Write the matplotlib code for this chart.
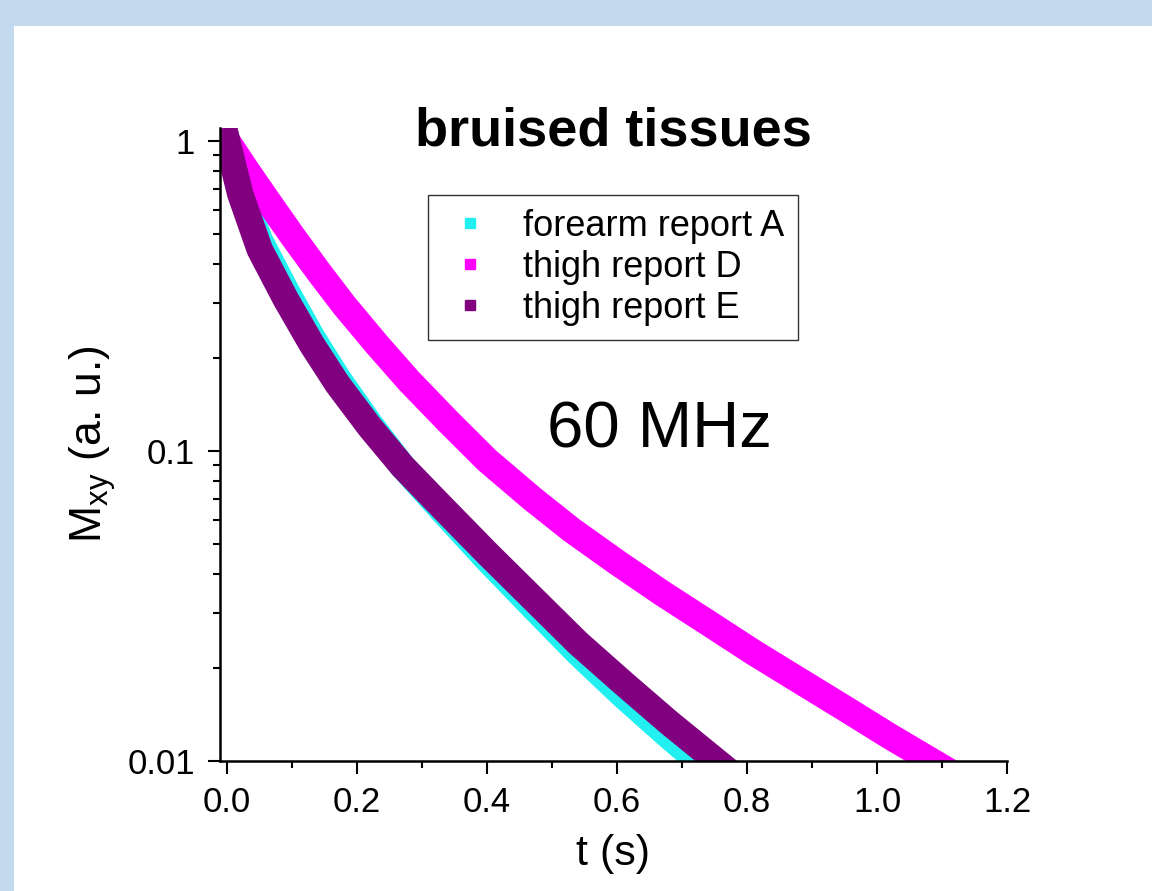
#import library
import matplotlib.pyplot as plt
from matplotlib.patches import Rectangle
from matplotlib.lines import Line2D
from matplotlib.ticker import MultipleLocator, LogLocator, NullFormatter, FuncFormatter, FormatStrFormatter

plt.rcParams['font.family'] = ['Liberation Sans', 'DejaVu Sans']

#data (t in s, Mxy in a.u.)
t_A = [0, 0.02, 0.05, 0.09, 0.13, 0.17, 0.22, 0.27, 0.33, 0.40, 0.47, 0.54, 0.61, 0.68, 0.75]
M_A = [1, 0.708, 0.479, 0.331, 0.234, 0.172, 0.122, 0.0891, 0.0646, 0.0447, 0.0315, 0.0223,
       0.0162, 0.0120, 0.0090]

t_D = [0, 0.03, 0.06, 0.10, 0.14, 0.18, 0.23, 0.28, 0.34, 0.40, 0.47, 0.53, 0.60, 0.67, 0.74,
       0.81, 0.88, 0.95, 1.02, 1.10]
M_D = [1, 0.804, 0.652, 0.495, 0.380, 0.295, 0.221, 0.168, 0.1245, 0.0933, 0.0700, 0.0556,
       0.0437, 0.0347, 0.0279, 0.0224, 0.0182, 0.0148, 0.0120, 0.00955]

t_E = [0, 0.02, 0.05, 0.09, 0.13, 0.17, 0.22, 0.27, 0.33, 0.40, 0.47, 0.54, 0.61, 0.68, 0.75, 0.80]
M_E = [1, 0.676, 0.447, 0.309, 0.221, 0.164, 0.119, 0.0891, 0.0661, 0.0468, 0.0335, 0.0240,
       0.0178, 0.0133, 0.0101, 0.0083]

labels = ['forearm report A', 'thigh report D', 'thigh report E']
colors = ['#22f0f0', '#ff00ff', '#800080']

#figure with light blue frame
fig = plt.figure(figsize=(11.52, 8.91), dpi=100)
fig.patch.set_facecolor('#c3d9ee')
fig.add_artist(Rectangle((14/1152, 0), 1, 1 - 26/891, transform=fig.transFigure,
                         facecolor='white', edgecolor='none', zorder=-1))

ax = fig.add_axes([220/1152, 130/891, 787/1152, 633/891])
ax.set_facecolor('white')

#thick bands
for t, M, c in zip([t_A, t_D, t_E], [M_A, M_D, M_E], colors):
    ax.plot(t, M, color=c, lw=19, solid_capstyle='projecting', solid_joinstyle='round')

ax.set_yscale('log')
ax.set_xlim(-0.011, 1.2)
ax.set_ylim(0.01, 1.10)

#spines and ticks
ax.spines['top'].set_visible(False)
ax.spines['right'].set_visible(False)
ax.spines['left'].set_linewidth(1.8)
ax.spines['bottom'].set_linewidth(1.8)

ax.xaxis.set_major_locator(MultipleLocator(0.2))
ax.xaxis.set_minor_locator(MultipleLocator(0.1))
ax.xaxis.set_major_formatter(FormatStrFormatter('%.1f'))
ax.yaxis.set_major_locator(LogLocator(base=10, numticks=10))
ax.yaxis.set_minor_locator(LogLocator(base=10, subs=range(2, 10), numticks=10))
ax.yaxis.set_minor_formatter(NullFormatter())
ax.yaxis.set_major_formatter(FuncFormatter(lambda v, p: f'{v:g}'))

ax.tick_params(which='major', direction='out', length=9, width=1.5, labelsize=25, pad=9)
ax.tick_params(which='minor', direction='out', length=5, width=1.5)

#labels
ax.set_xlabel('t (s)', fontsize=31)
ax.xaxis.set_label_coords(0.5, -0.115)
ax.set_ylabel(r'M$_{\mathregular{xy}}$ (a. u.)', fontsize=32)
ax.yaxis.set_label_coords(-0.13, 0.5)

ax.text(0.5, 0.973, 'bruised tissues', transform=ax.transAxes, ha='center', va='baseline',
        fontsize=39, fontweight='bold')
ax.text(0.558, 0.4945, '60 MHz', transform=ax.transAxes, ha='center', va='baseline', fontsize=47)

#legend with square markers
handles = [Line2D([], [], ls='none', marker='s', ms=7, color=c) for c in colors]
leg = ax.legend(handles, labels, loc='upper left', bbox_to_anchor=(0.264, 0.894), borderaxespad=0,
                fontsize=26, frameon=True, fancybox=False, borderpad=0.38, handlelength=1.6,
                handletextpad=0.65, labelspacing=0.17)
leg.get_frame().set_edgecolor('black')
leg.get_frame().set_linewidth(1.0)

plt.savefig('out.png', dpi=100, facecolor=fig.get_facecolor())
